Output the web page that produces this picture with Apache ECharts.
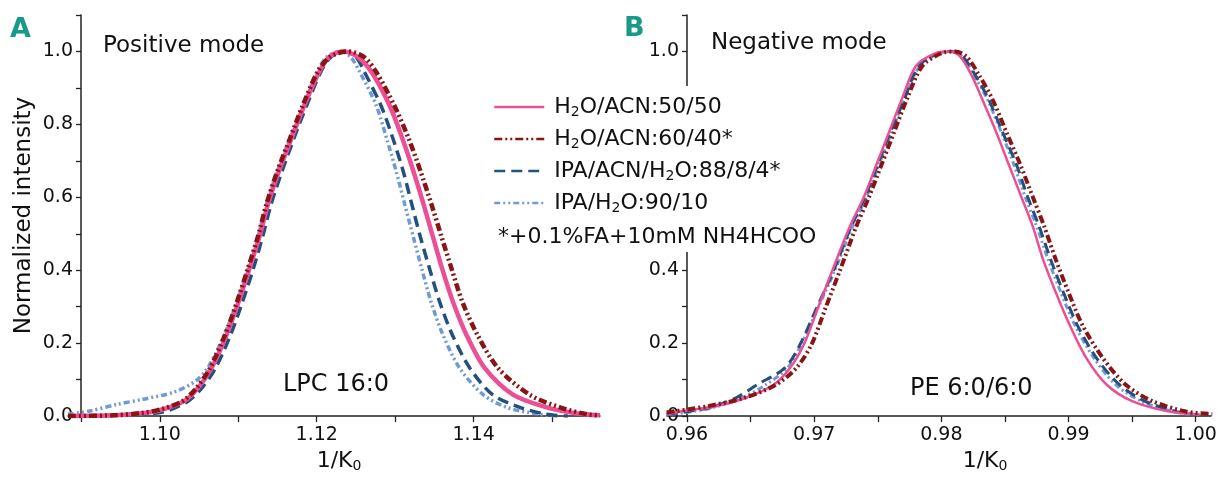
<!DOCTYPE html>
<html>
<head>
<meta charset="utf-8">
<script src="https://cdn.jsdelivr.net/npm/echarts@6/dist/echarts.min.js"></script>
<style>html,body{margin:0;padding:0;background:#fff}#c{width:1221px;height:478px}</style>
</head>
<body>
<div id="c"></div>
<script>
// ---------- data ----------
const seriesNames = ['H2O/ACN:50/50', 'H2O/ACN:60/40*', 'IPA/ACN/H2O:88/8/4*', 'IPA/H2O:90/10'];

// Panel A (positive mode, LPC 16:0): [1/K0, normalized intensity]
const posH2OACN5050 = [[1.0883,0.0],[1.0940,0.002],[1.0975,0.007],[1.1000,0.016],[1.1031,0.041],[1.1049,0.078],[1.1066,0.132],[1.1085,0.222],[1.1100,0.311],[1.1114,0.403],[1.1127,0.492],[1.1138,0.582],[1.1152,0.673],[1.1168,0.762],[1.1184,0.851],[1.1203,0.943],[1.1216,0.985],[1.1233,1.0],[1.1252,0.985],[1.1270,0.943],[1.1293,0.851],[1.1309,0.762],[1.1323,0.673],[1.1336,0.582],[1.1348,0.492],[1.1360,0.403],[1.1374,0.311],[1.1391,0.222],[1.1414,0.132],[1.1450,0.059],[1.1493,0.024],[1.1530,0.008],[1.1561,0.002]];
const posH2OACN6040 = [[1.0883,0.0],[1.0940,0.002],[1.0975,0.008],[1.1000,0.018],[1.1029,0.041],[1.1047,0.078],[1.1064,0.132],[1.1083,0.222],[1.1098,0.311],[1.1112,0.403],[1.1125,0.492],[1.1136,0.582],[1.1150,0.673],[1.1166,0.762],[1.1182,0.851],[1.1201,0.943],[1.1217,0.985],[1.1240,1.0],[1.1260,0.985],[1.1276,0.943],[1.1299,0.851],[1.1317,0.762],[1.1332,0.673],[1.1346,0.582],[1.1359,0.492],[1.1372,0.403],[1.1386,0.311],[1.1405,0.222],[1.1431,0.132],[1.1471,0.059],[1.1510,0.024],[1.1544,0.005],[1.1561,0.002]];
const posIPAACNH2O = [[1.0883,0.0],[1.0960,0.003],[1.1005,0.012],[1.1036,0.041],[1.1054,0.078],[1.1071,0.132],[1.1090,0.222],[1.1105,0.311],[1.1119,0.403],[1.1131,0.492],[1.1142,0.582],[1.1156,0.673],[1.1171,0.762],[1.1187,0.851],[1.1205,0.943],[1.1218,0.985],[1.1235,1.0],[1.1250,0.985],[1.1261,0.943],[1.1282,0.851],[1.1297,0.762],[1.1310,0.673],[1.1321,0.582],[1.1332,0.492],[1.1344,0.403],[1.1357,0.311],[1.1373,0.222],[1.1395,0.132],[1.1424,0.059],[1.1459,0.024],[1.1493,0.005],[1.1520,0.0]];
const posIPAH2O = [[1.0883,0.005],[1.0911,0.014],[1.0945,0.032],[1.0978,0.046],[1.1017,0.065],[1.1045,0.095],[1.1061,0.132],[1.1082,0.222],[1.1098,0.311],[1.1112,0.403],[1.1125,0.492],[1.1136,0.582],[1.1150,0.673],[1.1166,0.762],[1.1183,0.851],[1.1200,0.943],[1.1213,0.985],[1.1230,1.0],[1.1243,0.985],[1.1255,0.943],[1.1276,0.851],[1.1289,0.762],[1.1301,0.673],[1.1312,0.582],[1.1323,0.492],[1.1334,0.403],[1.1346,0.311],[1.1361,0.222],[1.1382,0.132],[1.1412,0.059],[1.1442,0.024],[1.1484,0.005],[1.1510,0.0]];

// Panel B (negative mode, PE 6:0/6:0)
const negH2OACN5050 = [[0.9584,0.005],[0.9597,0.014],[0.9623,0.027],[0.9647,0.051],[0.9668,0.086],[0.9681,0.132],[0.9692,0.197],[0.9703,0.297],[0.9714,0.397],[0.9728,0.519],[0.9739,0.60],[0.9749,0.69],[0.9759,0.78],[0.9769,0.87],[0.9780,0.96],[0.9795,0.995],[0.9807,1.0],[0.9815,0.985],[0.9824,0.933],[0.9832,0.870],[0.9843,0.78],[0.9853,0.69],[0.9863,0.60],[0.9872,0.519],[0.9880,0.429],[0.9890,0.339],[0.9901,0.249],[0.9914,0.159],[0.9930,0.086],[0.9950,0.041],[0.9977,0.014],[1.0003,0.004]];
const negH2OACN6040 = [[0.9584,0.010],[0.9600,0.018],[0.9616,0.027],[0.9645,0.050],[0.9670,0.086],[0.9686,0.132],[0.9698,0.197],[0.9709,0.297],[0.9720,0.397],[0.9733,0.519],[0.9743,0.60],[0.9753,0.69],[0.9763,0.78],[0.9773,0.87],[0.9785,0.96],[0.9800,0.995],[0.9811,1.0],[0.9820,0.985],[0.9830,0.933],[0.9840,0.870],[0.9851,0.78],[0.9862,0.69],[0.9872,0.60],[0.9881,0.519],[0.9890,0.429],[0.9900,0.339],[0.9911,0.249],[0.9927,0.159],[0.9945,0.086],[0.9966,0.041],[0.9993,0.012],[1.0013,0.006]];
const negIPAACNH2O = [[0.9584,0.005],[0.9600,0.012],[0.9620,0.025],[0.9639,0.051],[0.9655,0.086],[0.9677,0.132],[0.9689,0.197],[0.9702,0.297],[0.9715,0.397],[0.9729,0.519],[0.9740,0.60],[0.9750,0.69],[0.9760,0.78],[0.9771,0.87],[0.9782,0.96],[0.9797,0.995],[0.9808,1.0],[0.9817,0.985],[0.9827,0.933],[0.9837,0.870],[0.9848,0.78],[0.9859,0.69],[0.9868,0.60],[0.9877,0.519],[0.9886,0.429],[0.9896,0.339],[0.9907,0.249],[0.9922,0.159],[0.9940,0.086],[0.9960,0.041],[0.9985,0.012],[1.0003,0.003]];
const negIPAH2O = [[0.9584,0.004],[0.9600,0.010],[0.9621,0.024],[0.9643,0.050],[0.9662,0.086],[0.9679,0.132],[0.9690,0.197],[0.9703,0.297],[0.9716,0.397],[0.9730,0.519],[0.9741,0.60],[0.9751,0.69],[0.9761,0.78],[0.9771,0.87],[0.9783,0.96],[0.9798,0.995],[0.9808,1.0],[0.9817,0.985],[0.9826,0.933],[0.9836,0.870],[0.9847,0.78],[0.9857,0.69],[0.9866,0.60],[0.9875,0.519],[0.9884,0.429],[0.9894,0.339],[0.9905,0.249],[0.9920,0.159],[0.9937,0.086],[0.9957,0.041],[0.9983,0.012],[1.0000,0.003]];

// axis ticks / labels
const posXTicks = [1.09, 1.10, 1.11, 1.12, 1.13, 1.14, 1.15];
const posXLabels = [1.10, 1.12, 1.14];
const negXTicks = [0.96, 0.965, 0.97, 0.975, 0.98, 0.985, 0.99, 0.995, 1.00];
const negXLabels = [0.96, 0.97, 0.98, 0.99, 1.00];
const yTicks = [0, 0.1, 0.2, 0.3, 0.4, 0.5, 0.6, 0.7, 0.8, 0.9, 1.0, 1.1];
const yLabels = [0, 0.2, 0.4, 0.6, 0.8, 1.0];

// ---------- styles ----------
const FONT = 'DejaVu Sans';
const AX = '#222';
const colors = ['#ec4f94', '#8a1414', '#22507f', '#6f9ad4'];
const dashes = ['solid', [8, 3, 2, 3, 2, 3], [11, 6], [6, 3, 2, 3, 2, 3]];
const widthsA = [4.5, 4.5, 3.5, 3.5];
const widthsB = [2.5, 4, 3, 3];
const dataA = [posH2OACN5050, posH2OACN6040, posIPAACNH2O, posIPAH2O];
const dataB = [negH2OACN5050, negH2OACN6040, negIPAACNH2O, negIPAH2O];
const drawOrder = [3, 2, 0, 1];

function xAxisCfg(idx, min, max, ticks, labels) {
  return {
    type: 'value', gridIndex: idx, min: min, max: max,
    name: '1/K{s|0}', nameLocation: 'middle', nameGap: 20,
    nameTextStyle: {fontFamily: FONT, fontSize: 22, color: '#111', verticalAlign: 'top', lineHeight: 24,
      padding: idx === 1 ? [0, 0, 0, 92] : [0, 0, 0, 10],
      rich: {s: {fontFamily: FONT, fontSize: 14, color: '#111', verticalAlign: 'bottom', lineHeight: 14}}},
    axisLine: {show: true, onZero: false, lineStyle: {color: AX, width: 1.5}},
    axisTick: {show: true, customValues: ticks, length: 6, lineStyle: {color: AX, width: 1.3}},
    axisLabel: {customValues: labels, formatter: v => v.toFixed(2), fontFamily: FONT, fontSize: 19, color: '#111', margin: 9},
    splitLine: {show: false}
  };
}
function yAxisCfg(idx, offset, name) {
  return {
    type: 'value', gridIndex: idx, min: 0, max: 1.1, offset: offset,
    name: name, nameLocation: 'middle', nameGap: 45,
    nameTextStyle: {fontFamily: FONT, fontSize: 23, color: '#111'},
    axisLine: {show: true, onZero: false, lineStyle: {color: AX, width: 1.5}},
    axisTick: {show: true, customValues: yTicks, length: 5, lineStyle: {color: AX, width: 1.3}},
    axisLabel: {customValues: yLabels, formatter: v => v.toFixed(1), fontFamily: FONT, fontSize: 19, color: '#111', margin: 8},
    splitLine: {show: false}
  };
}

const series = [];
drawOrder.forEach(i => {
  series.push({name: seriesNames[i], type: 'line', xAxisIndex: 0, yAxisIndex: 0, data: dataA[i],
    showSymbol: false, symbol: 'none', smooth: 0.3,
    lineStyle: {color: colors[i], width: widthsA[i], type: dashes[i]}, itemStyle: {color: colors[i]}});
});
drawOrder.forEach(i => {
  series.push({name: seriesNames[i], type: 'line', xAxisIndex: 1, yAxisIndex: 1, data: dataB[i],
    showSymbol: false, symbol: 'none', smooth: 0.3,
    lineStyle: {color: colors[i], width: widthsB[i], type: dashes[i]}, itemStyle: {color: colors[i]}});
});

const chart = echarts.init(document.getElementById('c'), null, {renderer: 'canvas'});
chart.setOption({
  animation: false,
  backgroundColor: '#fff',
  grid: [
    {left: 68, top: 15, width: 532, height: 407},
    {left: 667, top: 15, width: 544, height: 407}
  ],
  xAxis: [
    xAxisCfg(0, 1.0883, 1.1561, posXTicks, posXLabels),
    xAxisCfg(1, 0.95843, 1.0012, negXTicks, negXLabels)
  ],
  yAxis: [
    yAxisCfg(0, -13, 'Normalized intensity'),
    yAxisCfg(1, -20, '')
  ],
  legend: {
    data: seriesNames, orient: 'vertical', left: 493, top: 95, padding: 0,
    itemWidth: 50, itemHeight: 20, itemGap: 8, z: 60,
    selectedMode: false,
    itemStyle: {opacity: 0, borderWidth: 0},
    lineStyle: {width: 2.5, opacity: 1},
    formatter: n => n.replace('H2O', 'H{s|2}O'),
    textStyle: {fontFamily: FONT, fontSize: 22, color: '#111', lineHeight: 24, padding: [0, 0, 0, 5],
      rich: {s: {fontFamily: FONT, fontSize: 14, color: '#111', verticalAlign: 'bottom', lineHeight: 14}}}
  },
  graphic: [
    {type: 'rect', z: 50, shape: {x: 484, y: 86, width: 348, height: 166}, style: {fill: '#fff'}},
    {type: 'text', z: 60, x: 498, y: 237, style: {text: '*+0.1%FA+10mM NH4HCOO', font: '22px "DejaVu Sans"', fill: '#111', verticalAlign: 'middle'}},
    {type: 'text', z: 60, x: 103, y: 46, style: {text: 'Positive mode', font: '23px "DejaVu Sans"', fill: '#111', verticalAlign: 'middle'}},
    {type: 'text', z: 60, x: 711, y: 43, style: {text: 'Negative mode', font: '23px "DejaVu Sans"', fill: '#111', verticalAlign: 'middle'}},
    {type: 'text', z: 60, x: 283, y: 385, style: {text: 'LPC 16:0', font: '24px "DejaVu Sans"', fill: '#111', verticalAlign: 'middle'}},
    {type: 'text', z: 60, x: 910, y: 389, style: {text: 'PE 6:0/6:0', font: '24px "DejaVu Sans"', fill: '#111', verticalAlign: 'middle'}},
    {type: 'text', z: 60, x: 10, y: 30, style: {text: 'A', font: 'bold 27px "DejaVu Sans"', fill: '#18998a', verticalAlign: 'middle'}},
    {type: 'text', z: 60, x: 624, y: 29, style: {text: 'B', font: 'bold 27px "DejaVu Sans"', fill: '#18998a', verticalAlign: 'middle'}}
  ],
  series: series
});
</script>
</body>
</html>
